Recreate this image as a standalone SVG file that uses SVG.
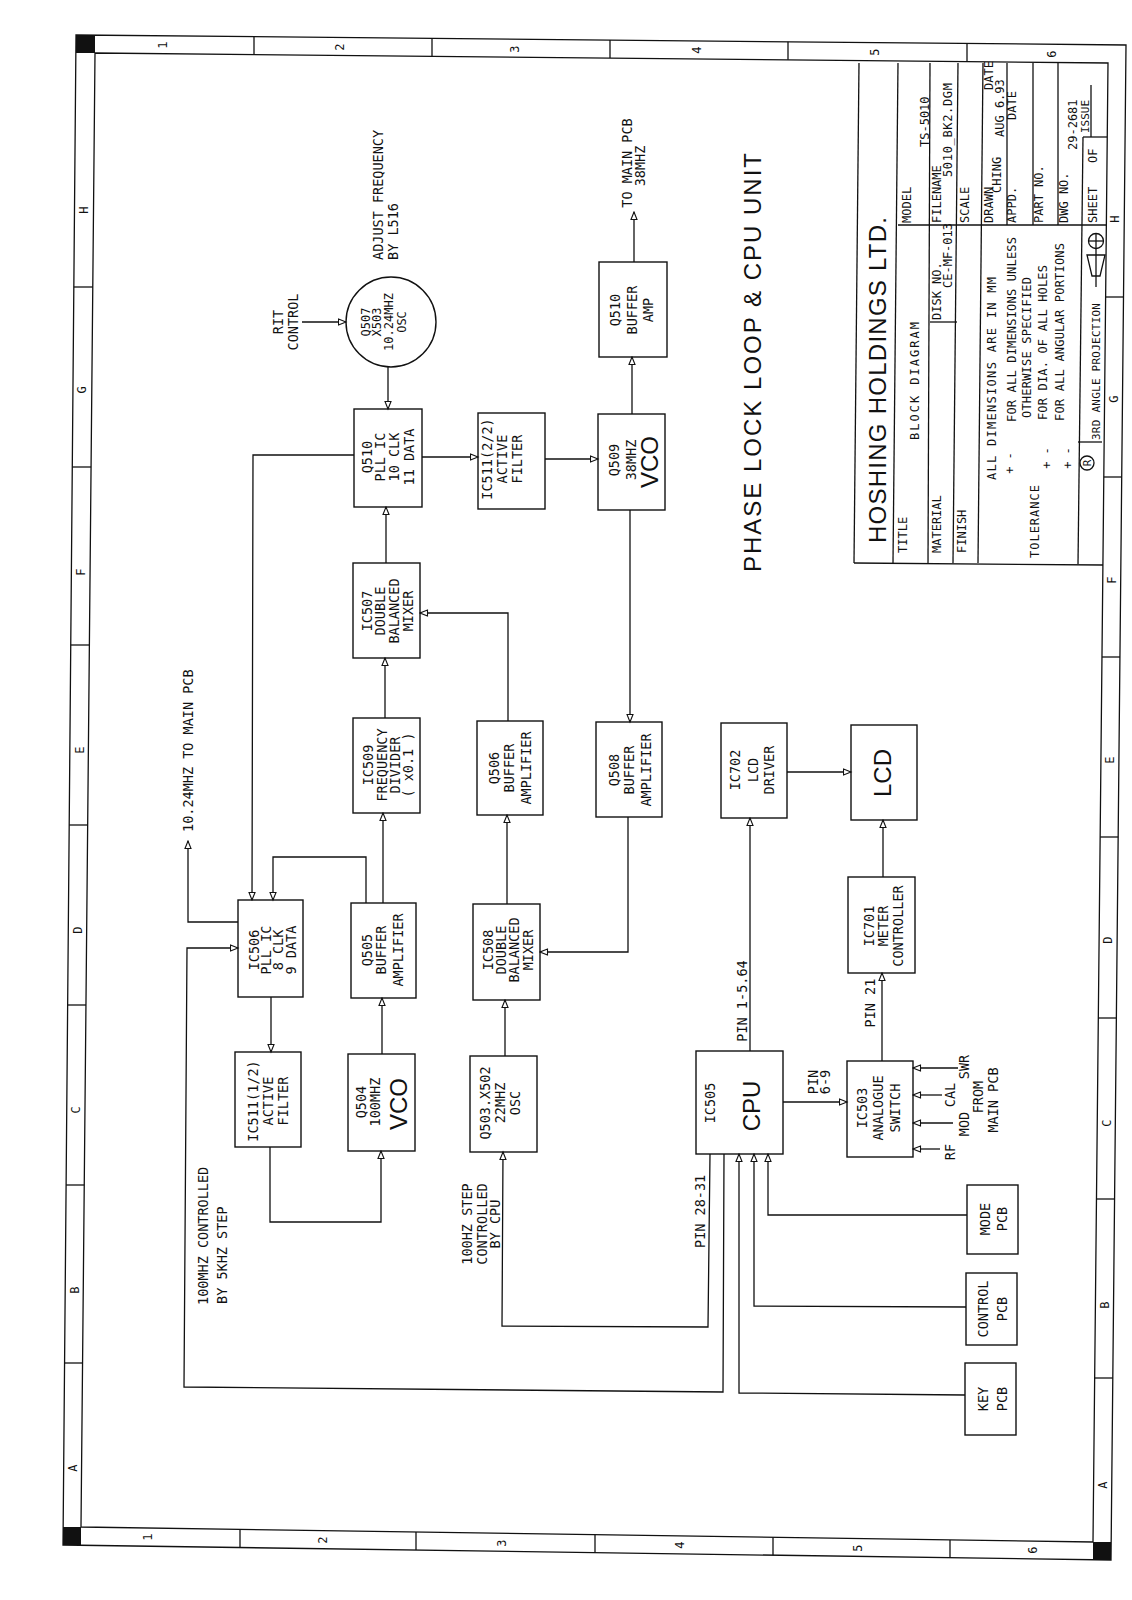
<svg xmlns="http://www.w3.org/2000/svg" width="1132" height="1600" viewBox="0 0 1132 1600">
<style>
.bg{fill:#fff}
.n{fill:none;stroke:#111;stroke-width:1.4}
.c{fill:none;stroke:#111;stroke-width:1.3}
.f{fill:none;stroke:#111;stroke-width:1.3}
.k{fill:#111}
.t{font-family:"DejaVu Sans Mono","Liberation Mono",monospace;font-size:13.5px;fill:#111;text-anchor:middle;dominant-baseline:central}
.s{text-anchor:start}
.sm{font-size:12px}
.xs{font-size:11px}
.L{font-family:"Liberation Sans",Arial,sans-serif;font-size:24px}
</style>
<defs>
<marker id="a" markerWidth="10" markerHeight="8" refX="8.5" refY="4" orient="auto" markerUnits="userSpaceOnUse">
<path d="M1,1 L8.5,4 L1,7 z" fill="#fff" stroke="#111" stroke-width="1.1"/>
</marker>
</defs>
<rect class="bg" x="0" y="0" width="1132" height="1600"/>

<g id="border">
<polygon class="f" points="76,35 1126,45 1111,1560 63,1545"/>
<polygon class="f" points="95,53 1108,63 1093,1542 81,1527"/>
<rect class="k" x="76" y="35" width="19" height="18"/>
<rect class="k" x="63" y="1527" width="18" height="18"/>
<rect class="k" x="1093" y="1542" width="18" height="18"/>
<g class="f">
<line x1="254" y1="36.7" x2="254" y2="54.6"/><line x1="432" y1="38.4" x2="432" y2="56.3"/><line x1="610" y1="40.1" x2="610" y2="58.1"/><line x1="788" y1="41.8" x2="788" y2="59.8"/><line x1="967" y1="43.5" x2="967" y2="61.6"/>
<line x1="73.8" y1="287" x2="92.8" y2="287"/><line x1="72.3" y1="467" x2="91.1" y2="467"/><line x1="70.8" y1="645" x2="89.4" y2="645"/><line x1="69.2" y1="825" x2="87.7" y2="825"/><line x1="67.7" y1="1005" x2="86" y2="1005"/><line x1="66.1" y1="1185" x2="84.2" y2="1185"/><line x1="64.6" y1="1363" x2="82.5" y2="1363"/>
<line x1="240" y1="1529.4" x2="240" y2="1547.5"/><line x1="416" y1="1532" x2="416" y2="1550.1"/><line x1="595" y1="1534.6" x2="595" y2="1552.6"/><line x1="773" y1="1537.3" x2="773" y2="1555.2"/><line x1="950" y1="1539.9" x2="950" y2="1557.7"/>
<line x1="1105.6" y1="297" x2="1123.5" y2="297"/><line x1="1103.8" y1="477" x2="1121.8" y2="477"/><line x1="1102" y1="657" x2="1120" y2="657"/><line x1="1100.2" y1="837" x2="1118.2" y2="837"/><line x1="1098.4" y1="1018" x2="1116.4" y2="1018"/><line x1="1096.7" y1="1199" x2="1114.6" y2="1199"/><line x1="1094.9" y1="1378" x2="1112.8" y2="1378"/>
</g>
<g class="t sm">
<text x="163" y="45" transform="rotate(-90 163 45)">1</text>
<text x="340" y="47" transform="rotate(-90 340 47)">2</text>
<text x="515" y="49" transform="rotate(-90 515 49)">3</text>
<text x="697" y="50" transform="rotate(-90 697 50)">4</text>
<text x="875" y="52" transform="rotate(-90 875 52)">5</text>
<text x="1052" y="54" transform="rotate(-90 1052 54)">6</text>
<text x="148" y="1537" transform="rotate(-90 148 1537)">1</text>
<text x="323" y="1540" transform="rotate(-90 323 1540)">2</text>
<text x="502" y="1543" transform="rotate(-90 502 1543)">3</text>
<text x="680" y="1545" transform="rotate(-90 680 1545)">4</text>
<text x="858" y="1548" transform="rotate(-90 858 1548)">5</text>
<text x="1033" y="1550" transform="rotate(-90 1033 1550)">6</text>
<text x="84" y="210" transform="rotate(-90 84 210)">H</text>
<text x="82.4" y="390" transform="rotate(-90 82.4 390)">G</text>
<text x="81" y="572" transform="rotate(-90 81 572)">F</text>
<text x="79.5" y="750" transform="rotate(-90 79.5 750)">E</text>
<text x="78" y="930" transform="rotate(-90 78 930)">D</text>
<text x="76.4" y="1110" transform="rotate(-90 76.4 1110)">C</text>
<text x="74.8" y="1290" transform="rotate(-90 74.8 1290)">B</text>
<text x="73.3" y="1468" transform="rotate(-90 73.3 1468)">A</text>
<text x="1115" y="219" transform="rotate(-90 1115 219)">H</text>
<text x="1113.5" y="399" transform="rotate(-90 1113.5 399)">G</text>
<text x="1112" y="580" transform="rotate(-90 1112 580)">F</text>
<text x="1110" y="760" transform="rotate(-90 1110 760)">E</text>
<text x="1108" y="940" transform="rotate(-90 1108 940)">D</text>
<text x="1107" y="1123" transform="rotate(-90 1107 1123)">C</text>
<text x="1105" y="1305" transform="rotate(-90 1105 1305)">B</text>
<text x="1103" y="1485" transform="rotate(-90 1103 1485)">A</text>
</g>
</g>

<g id="title-block">
<g class="f">
<line x1="859" y1="63" x2="854" y2="563"/>
<line x1="854" y1="563" x2="1103" y2="565"/>
<line x1="898" y1="63" x2="893" y2="563"/>
<line x1="930" y1="63" x2="928" y2="563"/>
<line x1="958" y1="63" x2="953" y2="563"/>
<line x1="983" y1="63" x2="978" y2="563"/>
<line x1="1083" y1="137" x2="1078" y2="564"/>
<line x1="898" y1="225" x2="1107" y2="225"/>
<line x1="1007" y1="63" x2="1007" y2="225"/>
<line x1="1033" y1="63" x2="1033" y2="225"/>
<line x1="1058" y1="63" x2="1058" y2="225"/>
<line x1="1091" y1="85" x2="1091" y2="137"/>
<line x1="1083" y1="137" x2="1107" y2="137"/>
<line x1="930" y1="322" x2="957" y2="322"/>
<line x1="1078" y1="442" x2="1102" y2="442"/>
<circle cx="1087" cy="463" r="7"/>
<circle cx="1096" cy="241" r="7.5"/>
<line x1="1088.5" y1="241" x2="1103.5" y2="241"/>
<line x1="1096" y1="233.5" x2="1096" y2="248.5"/>
<polygon points="1087,255 1105,255 1100,276 1092,276"/>
<line x1="1096" y1="249" x2="1096" y2="287"/>
</g>
<text class="t s L" x="877" y="543" textLength="326" lengthAdjust="spacing" transform="rotate(-90 877 543)">HOSHING HOLDINGS LTD.</text>
<g class="t sm s">
<text x="903" y="553" transform="rotate(-90 903 553)">TITLE</text>
<text x="915" y="440" textLength="118" transform="rotate(-90 915 440)">BLOCK DIAGRAM</text>
<text x="937" y="553" transform="rotate(-90 937 553)">MATERIAL</text>
<text x="937" y="320" transform="rotate(-90 937 320)">DISK NO.</text>
<text x="948" y="288" transform="rotate(-90 948 288)">CE-MF-013</text>
<text x="962" y="553" transform="rotate(-90 962 553)">FINISH</text>
<text x="992" y="480" textLength="203" transform="rotate(-90 992 480)">ALL DIMENSIONS ARE IN MM</text>
<text x="1012" y="422" textLength="185" transform="rotate(-90 1012 422)">FOR ALL DIMENSIONS UNLESS</text>
<text x="1027" y="418" textLength="141" transform="rotate(-90 1027 418)">OTHERWISE SPECIFIED</text>
<text x="1035" y="558" textLength="73" transform="rotate(-90 1035 558)">TOLERANCE</text>
<text x="1043" y="420" textLength="155" transform="rotate(-90 1043 420)">FOR DIA. OF ALL HOLES</text>
<text x="1060" y="421" textLength="178" transform="rotate(-90 1060 421)">FOR ALL ANGULAR PORTIONS</text>
<text class="t s xs" x="1096" y="440" textLength="137" transform="rotate(-90 1096 440)">3RD ANGLE PROJECTION</text>
<text x="907" y="223" transform="rotate(-90 907 223)">MODEL</text>
<text x="925" y="147" transform="rotate(-90 925 147)">TS-5010</text>
<text x="937" y="223" transform="rotate(-90 937 223)">FILENAME</text>
<text x="948" y="177" textLength="94" transform="rotate(-90 948 177)">5010_BK2.DGM</text>
<text x="965" y="223" transform="rotate(-90 965 223)">SCALE</text>
<text x="989" y="223" transform="rotate(-90 989 223)">DRAWN</text>
<text x="997" y="193" transform="rotate(-90 997 193)">CHING</text>
<text x="989" y="90" transform="rotate(-90 989 90)">DATE</text>
<text x="1000" y="137" transform="rotate(-90 1000 137)">AUG 6.93</text>
<text x="1012" y="223" transform="rotate(-90 1012 223)">APPD.</text>
<text x="1012" y="120" transform="rotate(-90 1012 120)">DATE</text>
<text x="1039" y="223" transform="rotate(-90 1039 223)">PART NO.</text>
<text x="1064" y="223" transform="rotate(-90 1064 223)">DWG NO.</text>
<text x="1073" y="150" transform="rotate(-90 1073 150)">29-2681</text>
<text x="1093" y="223" transform="rotate(-90 1093 223)">SHEET</text>
<text x="1093" y="163" transform="rotate(-90 1093 163)">OF</text>
<text class="t s xs" x="1085" y="133" transform="rotate(-90 1085 133)">ISSUE</text>
</g>
<g class="t sm">
<text x="1010" y="463" transform="rotate(-90 1010 463)">+ -</text>
<text x="1047" y="458" transform="rotate(-90 1047 458)">+ -</text>
<text x="1068" y="458" transform="rotate(-90 1068 458)">+ -</text>
<text class="t xs" x="1087" y="463" transform="rotate(-90 1087 463)">R</text>
</g>
</g>

<g id="connectors" class="c">
<line x1="302" y1="322" x2="346" y2="322" marker-end="url(#a)"/>
<line x1="388" y1="367" x2="388" y2="409" marker-end="url(#a)"/>
<line x1="422" y1="457" x2="478" y2="457" marker-end="url(#a)"/>
<line x1="545" y1="459" x2="598" y2="459" marker-end="url(#a)"/>
<line x1="632" y1="414" x2="632" y2="357" marker-end="url(#a)"/>
<line x1="634" y1="262" x2="634" y2="212" marker-end="url(#a)"/>
<line x1="630" y1="510" x2="630" y2="722" marker-end="url(#a)"/>
<line x1="386" y1="563" x2="386" y2="507" marker-end="url(#a)"/>
<line x1="385" y1="718" x2="385" y2="658" marker-end="url(#a)"/>
<polyline points="508,721 508,613 420,613" marker-end="url(#a)"/>
<line x1="383" y1="903" x2="383" y2="813" marker-end="url(#a)"/>
<polyline points="366,903 366,857 273,857 273,900" marker-end="url(#a)"/>
<polyline points="354,455 253,455 252,900" marker-end="url(#a)"/>
<polyline points="238,922 188,922 188,841" marker-end="url(#a)"/>
<line x1="271" y1="997" x2="271" y2="1052" marker-end="url(#a)"/>
<polyline points="270,1147 270,1222 381,1222 381,1151" marker-end="url(#a)"/>
<line x1="382" y1="1054" x2="382" y2="998" marker-end="url(#a)"/>
<line x1="505" y1="1056" x2="505" y2="1000" marker-end="url(#a)"/>
<line x1="507" y1="904" x2="507" y2="815" marker-end="url(#a)"/>
<polyline points="628,817 628,952 540,952" marker-end="url(#a)"/>
<line x1="750" y1="1051" x2="750" y2="818" marker-end="url(#a)"/>
<line x1="787" y1="772" x2="851" y2="772" marker-end="url(#a)"/>
<line x1="883" y1="877" x2="883" y2="820" marker-end="url(#a)"/>
<line x1="882" y1="1061" x2="882" y2="973" marker-end="url(#a)"/>
<line x1="783" y1="1102" x2="847" y2="1102" marker-end="url(#a)"/>
<line x1="958" y1="1068" x2="913" y2="1068" marker-end="url(#a)"/>
<line x1="942" y1="1095" x2="913" y2="1095" marker-end="url(#a)"/>
<line x1="953" y1="1123" x2="913" y2="1123" marker-end="url(#a)"/>
<line x1="940" y1="1149" x2="913" y2="1149" marker-end="url(#a)"/>
<polyline points="710,1154 708,1327 502,1326 503,1152" marker-end="url(#a)"/>
<polyline points="724,1154 723,1392 184,1387 187,948 238,948" marker-end="url(#a)"/>
<polyline points="965,1395 739,1393 739,1154" marker-end="url(#a)"/>
<polyline points="966,1307 754,1306 754,1154" marker-end="url(#a)"/>
<polyline points="967,1215 768,1215 768,1154" marker-end="url(#a)"/>
</g>

<g id="q507">
<circle class="n" cx="391" cy="322" r="45"/>
<g class="t sm">
<text x="366" y="322" transform="rotate(-90 366 322)">Q507</text>
<text x="377" y="322" transform="rotate(-90 377 322)">X503</text>
<text x="389" y="322" transform="rotate(-90 389 322)">10.24MHZ</text>
<text x="402" y="322" transform="rotate(-90 402 322)">OSC</text>
</g>
</g>

<g id="q510pll">
<rect class="n" x="354" y="409" width="68" height="98"/>
<g class="t">
<text x="367" y="457" transform="rotate(-90 367 457)">Q510</text>
<text x="380" y="457" transform="rotate(-90 380 457)">PLL IC</text>
<text x="394" y="457" transform="rotate(-90 394 457)">10 CLK</text>
<text x="409" y="457" transform="rotate(-90 409 457)">11 DATA</text>
</g>
</g>

<g id="ic511b">
<rect class="n" x="478" y="413" width="67" height="96"/>
<g class="t">
<text x="487" y="459" transform="rotate(-90 487 459)">IC511(2/2)</text>
<text x="502" y="459" transform="rotate(-90 502 459)">ACTIVE</text>
<text x="517" y="459" transform="rotate(-90 517 459)">FILTER</text>
</g>
</g>

<g id="q509">
<rect class="n" x="598" y="414" width="67" height="96"/>
<g class="t">
<text x="614" y="460" transform="rotate(-90 614 460)">Q509</text>
<text x="631" y="460" transform="rotate(-90 631 460)">38MHZ</text>
<text class="t L" x="649" y="462" transform="rotate(-90 649 462)">VCO</text>
</g>
</g>

<g id="q510buf">
<rect class="n" x="599" y="262" width="68" height="95"/>
<g class="t">
<text x="615" y="310" transform="rotate(-90 615 310)">Q510</text>
<text x="632" y="310" transform="rotate(-90 632 310)">BUFFER</text>
<text x="648" y="310" transform="rotate(-90 648 310)">AMP</text>
</g>
</g>

<g id="ic507">
<rect class="n" x="353" y="563" width="67" height="95"/>
<g class="t">
<text x="367" y="611" transform="rotate(-90 367 611)">IC507</text>
<text x="380" y="611" transform="rotate(-90 380 611)">DOUBLE</text>
<text x="394" y="611" transform="rotate(-90 394 611)">BALANCED</text>
<text x="408" y="611" transform="rotate(-90 408 611)">MIXER</text>
</g>
</g>

<g id="ic509">
<rect class="n" x="353" y="718" width="67" height="95"/>
<g class="t">
<text x="368" y="765" transform="rotate(-90 368 765)">IC509</text>
<text x="382" y="765" transform="rotate(-90 382 765)">FREQUENCY</text>
<text x="395" y="765" transform="rotate(-90 395 765)">DIVIDER</text>
<text x="408" y="765" transform="rotate(-90 408 765)">( x0.1 )</text>
</g>
</g>

<g id="q506">
<rect class="n" x="477" y="721" width="66" height="94"/>
<g class="t">
<text x="494" y="768" transform="rotate(-90 494 768)">Q506</text>
<text x="509" y="768" transform="rotate(-90 509 768)">BUFFER</text>
<text x="526" y="768" transform="rotate(-90 526 768)">AMPLIFIER</text>
</g>
</g>

<g id="q508">
<rect class="n" x="596" y="722" width="66" height="95"/>
<g class="t">
<text x="614" y="770" transform="rotate(-90 614 770)">Q508</text>
<text x="629" y="770" transform="rotate(-90 629 770)">BUFFER</text>
<text x="646" y="770" transform="rotate(-90 646 770)">AMPLIFIER</text>
</g>
</g>

<g id="ic702">
<rect class="n" x="721" y="723" width="66" height="95"/>
<g class="t">
<text x="735" y="770" transform="rotate(-90 735 770)">IC702</text>
<text x="753" y="770" transform="rotate(-90 753 770)">LCD</text>
<text x="769" y="770" transform="rotate(-90 769 770)">DRIVER</text>
</g>
</g>

<g id="lcd">
<rect class="n" x="851" y="725" width="66" height="95"/>
<text class="t L" x="882" y="773" transform="rotate(-90 882 773)">LCD</text>
</g>

<g id="ic506">
<rect class="n" x="238" y="900" width="65" height="97"/>
<g class="t">
<text x="254" y="950" transform="rotate(-90 254 950)">IC506</text>
<text x="266" y="950" transform="rotate(-90 266 950)">PLL IC</text>
<text x="278" y="950" transform="rotate(-90 278 950)">8 CLK</text>
<text x="291" y="950" transform="rotate(-90 291 950)">9 DATA</text>
</g>
</g>

<g id="q505">
<rect class="n" x="351" y="903" width="65" height="95"/>
<g class="t">
<text x="367" y="950" transform="rotate(-90 367 950)">Q505</text>
<text x="381" y="950" transform="rotate(-90 381 950)">BUFFER</text>
<text x="398" y="950" transform="rotate(-90 398 950)">AMPLIFIER</text>
</g>
</g>

<g id="ic511a">
<rect class="n" x="235" y="1052" width="66" height="95"/>
<g class="t">
<text x="253" y="1101" transform="rotate(-90 253 1101)">IC511(1/2)</text>
<text x="268" y="1101" transform="rotate(-90 268 1101)">ACTIVE</text>
<text x="283" y="1101" transform="rotate(-90 283 1101)">FILTER</text>
</g>
</g>

<g id="q504">
<rect class="n" x="348" y="1054" width="67" height="97"/>
<g class="t">
<text x="361" y="1102" transform="rotate(-90 361 1102)">Q504</text>
<text x="375" y="1102" transform="rotate(-90 375 1102)">100MHZ</text>
<text class="t L" x="398" y="1104" transform="rotate(-90 398 1104)">VCO</text>
</g>
</g>

<g id="ic508">
<rect class="n" x="473" y="904" width="67" height="96"/>
<g class="t">
<text x="488" y="950" transform="rotate(-90 488 950)">IC508</text>
<text x="501" y="950" transform="rotate(-90 501 950)">DOUBLE</text>
<text x="514" y="950" transform="rotate(-90 514 950)">BALANCED</text>
<text x="528" y="950" transform="rotate(-90 528 950)">MIXER</text>
</g>
</g>

<g id="q503">
<rect class="n" x="470" y="1056" width="67" height="96"/>
<g class="t">
<text x="485" y="1103" transform="rotate(-90 485 1103)">Q503.X502</text>
<text x="500" y="1103" transform="rotate(-90 500 1103)">22MHZ</text>
<text x="515" y="1103" transform="rotate(-90 515 1103)">OSC</text>
</g>
</g>

<g id="cpu">
<rect class="n" x="696" y="1051" width="87" height="103"/>
<text class="t" x="710" y="1103" transform="rotate(-90 710 1103)">IC505</text>
<text class="t L" x="751" y="1106" transform="rotate(-90 751 1106)">CPU</text>
</g>

<g id="ic701">
<rect class="n" x="848" y="877" width="67" height="96"/>
<g class="t">
<text x="869" y="926" transform="rotate(-90 869 926)">IC701</text>
<text x="883" y="926" transform="rotate(-90 883 926)">METER</text>
<text x="898" y="926" transform="rotate(-90 898 926)">CONTROLLER</text>
</g>
</g>

<g id="ic503">
<rect class="n" x="847" y="1061" width="66" height="96"/>
<g class="t">
<text x="862" y="1108" transform="rotate(-90 862 1108)">IC503</text>
<text x="878" y="1108" transform="rotate(-90 878 1108)">ANALOGUE</text>
<text x="895" y="1108" transform="rotate(-90 895 1108)">SWITCH</text>
</g>
</g>

<g id="mode-pcb">
<rect class="n" x="967" y="1185" width="51" height="69"/>
<text class="t" x="985" y="1219" transform="rotate(-90 985 1219)">MODE</text>
<text class="t" x="1002" y="1219" transform="rotate(-90 1002 1219)">PCB</text>
</g>

<g id="control-pcb">
<rect class="n" x="966" y="1273" width="51" height="72"/>
<text class="t" x="983" y="1309" transform="rotate(-90 983 1309)">CONTROL</text>
<text class="t" x="1002" y="1309" transform="rotate(-90 1002 1309)">PCB</text>
</g>

<g id="key-pcb">
<rect class="n" x="965" y="1363" width="51" height="72"/>
<text class="t" x="983" y="1399" transform="rotate(-90 983 1399)">KEY</text>
<text class="t" x="1002" y="1399" transform="rotate(-90 1002 1399)">PCB</text>
</g>

<g id="labels" class="t">
<text x="278" y="322" transform="rotate(-90 278 322)">RIT</text>
<text x="293" y="322" transform="rotate(-90 293 322)">CONTROL</text>
<text class="t s" x="378" y="260" transform="rotate(-90 378 260)">ADJUST FREQUENCY</text>
<text class="t s" x="393" y="260" transform="rotate(-90 393 260)">BY L516</text>
<text x="627" y="163" transform="rotate(-90 627 163)">TO MAIN PCB</text>
<text x="640" y="166" transform="rotate(-90 640 166)">38MHZ</text>
<text class="t s L" x="752" y="572" textLength="419" lengthAdjust="spacing" transform="rotate(-90 752 572)">PHASE LOCK LOOP &amp; CPU UNIT</text>
<text class="t s" x="188" y="832" transform="rotate(-90 188 832)">10.24MHZ TO MAIN PCB</text>
<text class="t s" x="203" y="1305" transform="rotate(-90 203 1305)">100MHZ CONTROLLED</text>
<text class="t s" x="222" y="1304" transform="rotate(-90 222 1304)">BY 5KHZ STEP</text>
<text x="467" y="1224" transform="rotate(-90 467 1224)">100HZ STEP</text>
<text x="482" y="1224" transform="rotate(-90 482 1224)">CONTROLLED</text>
<text x="495" y="1224" transform="rotate(-90 495 1224)">BY CPU</text>
<text class="t s" x="700" y="1248" transform="rotate(-90 700 1248)">PIN 28-31</text>
<text x="742" y="1001" transform="rotate(-90 742 1001)">PIN 1-5.64</text>
<text x="870" y="1003" transform="rotate(-90 870 1003)">PIN 21</text>
<text x="813" y="1082" transform="rotate(-90 813 1082)">PIN</text>
<text x="825" y="1082" transform="rotate(-90 825 1082)">6-9</text>
<text x="964" y="1067" transform="rotate(-90 964 1067)">SWR</text>
<text x="950" y="1095" transform="rotate(-90 950 1095)">CAL</text>
<text x="964" y="1124" transform="rotate(-90 964 1124)">MOD</text>
<text x="950" y="1152" transform="rotate(-90 950 1152)">RF</text>
<text x="978" y="1097" transform="rotate(-90 978 1097)">FROM</text>
<text x="993" y="1100" transform="rotate(-90 993 1100)">MAIN PCB</text>
</g>
</svg>
